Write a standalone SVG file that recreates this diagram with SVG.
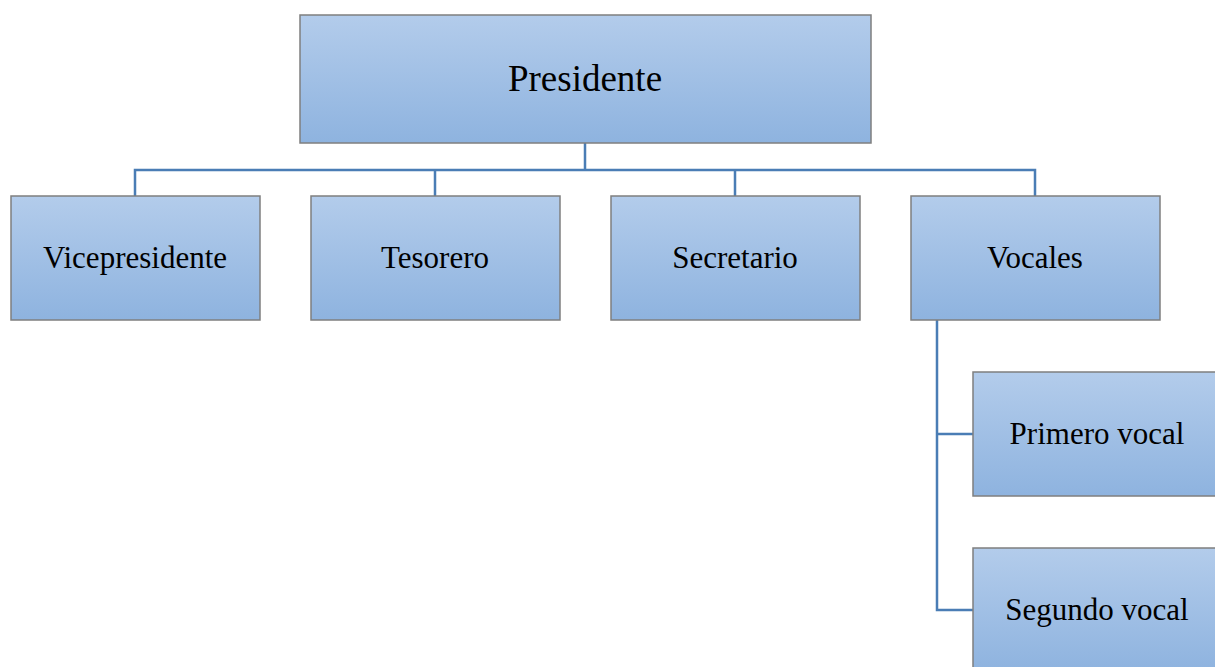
<svg xmlns="http://www.w3.org/2000/svg" width="1215" height="667" viewBox="0 0 1215 667">
<defs>
<linearGradient id="g" x1="0" y1="0" x2="0" y2="1">
<stop offset="0" stop-color="#b3cceb"/>
<stop offset="1" stop-color="#8eb3df"/>
</linearGradient>
</defs>
<style>
.box{fill:url(#g);stroke:#7f7f7f;stroke-width:1.5}
.t{font-family:"Liberation Serif","Times New Roman",serif;font-size:31px;fill:#000;text-anchor:middle}
.big{font-size:37px}
.c{fill:none;stroke:#4a7db5;stroke-width:2.5}
</style>
<rect width="1215" height="667" fill="#fff"/>
<g id="connectors">
<path class="c" d="M585,143V170M135,196V170H1035V196M435,170V196M735,170V196"/>
<path class="c" d="M937,320V610H973M937,434H973"/>
</g>
<g id="presidente"><rect class="box" x="300" y="15" width="571" height="128"/><text class="t big" x="585" y="91">Presidente</text></g>
<g id="vicepresidente"><rect class="box" x="11" y="196" width="249" height="124"/><text class="t" x="135" y="268">Vicepresidente</text></g>
<g id="tesorero"><rect class="box" x="311" y="196" width="249" height="124"/><text class="t" x="435" y="268">Tesorero</text></g>
<g id="secretario"><rect class="box" x="611" y="196" width="249" height="124"/><text class="t" x="735" y="268">Secretario</text></g>
<g id="vocales"><rect class="box" x="911" y="196" width="249" height="124"/><text class="t" x="1035" y="268">Vocales</text></g>
<g id="primero"><rect class="box" x="973" y="372" width="250" height="124"/><text class="t" x="1097" y="444">Primero vocal</text></g>
<g id="segundo"><rect class="box" x="973" y="548" width="250" height="124"/><text class="t" x="1097" y="620">Segundo vocal</text></g>
</svg>
